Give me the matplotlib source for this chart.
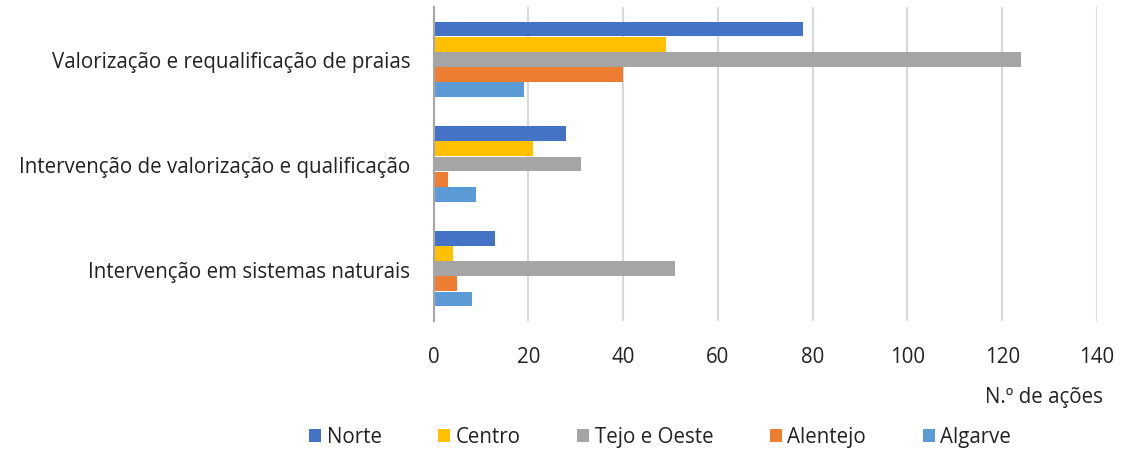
import matplotlib
matplotlib.use("Agg")
import matplotlib.pyplot as plt
import numpy as np

categories = ["Valorização e requalificação de praias",
              "Intervenção de valorização e qualificação",
              "Intervenção em sistemas naturais"]
series_names = ["Norte", "Centro", "Tejo e Oeste", "Alentejo", "Algarve"]
norte = [78, 28, 13]
centro = [49, 21, 4]
tejo_oeste = [124, 31, 51]
alentejo = [40, 3, 5]
algarve = [19, 9, 8]
x_ticks = [0, 20, 40, 60, 80, 100, 120, 140]
x_label = "N.º de ações"

colors = ["#4472C4", "#FFC000", "#A5A5A5", "#ED7D31", "#5B9BD5"]
values = [norte, centro, tejo_oeste, alentejo, algarve]

plt.rcParams['font.family'] = ['Open Sans', 'DejaVu Sans']
FS = 14.8

fig = plt.figure(figsize=(11.22, 4.52), dpi=100)
ax = fig.add_axes([433.7/1122, 1-322/452, (1097-433.7)/1122, (322-8)/452])

y = np.arange(len(categories))
h = 0.145
for i, (name, vals, c) in enumerate(zip(series_names, values, colors)):
    ax.barh(y + (i-2)*h, vals, height=h*0.97, color=c, label=name, zorder=3)

ax.set_ylim(2.5, -0.5)
ax.set_xlim(0, 140)
ax.set_xticks(x_ticks)
ax.set_yticks(y)
ax.set_yticklabels(categories, fontsize=FS, color="#222222")
ax.tick_params(axis='x', length=0, pad=18, labelsize=FS, labelcolor="#222222")
ax.tick_params(axis='y', length=0, pad=17)
ax.grid(axis='x', color="#D9D9D9", linewidth=1.5, zorder=0)
for s in ["top", "right", "bottom"]:
    ax.spines[s].set_visible(False)
ax.spines["left"].set_color("#A6A6A6")
ax.spines["left"].set_linewidth(1.5)
ax.spines["left"].set_zorder(4)

fig.text(1103/1122, 1-398/452, x_label, ha="right", va="center", fontsize=FS, color="#222222")

fig.legend(loc="center", bbox_to_anchor=(660/1122, 1-438/452), ncol=5, frameon=False,
           fontsize=FS, handlelength=0.6, handleheight=0.6, handletextpad=0.25,
           columnspacing=2.75, labelcolor="#222222")

fig.savefig("out.png", dpi=100)
